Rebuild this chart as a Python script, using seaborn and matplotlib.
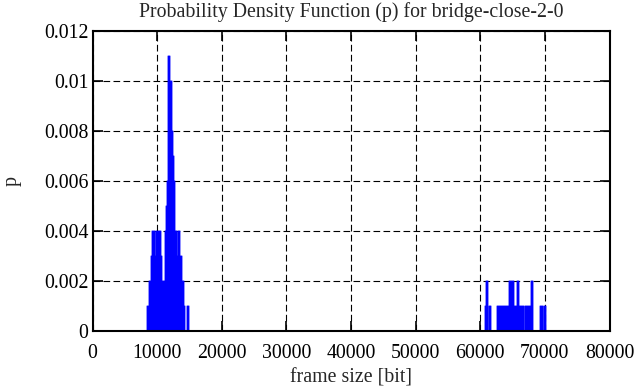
import numpy as np
import pandas as pd
import matplotlib
matplotlib.use("Agg")
import matplotlib.pyplot as plt
import seaborn as sns

# ---- data ----
# frame sizes in bits (bin centres) of the low-size cluster and their probabilities
low_sizes = [8431, 8586, 8741, 8895, 9050, 9205, 9360, 9514, 9669, 9823,
             9978, 10133, 10288, 10442, 10597, 10752, 10906, 11061, 11216, 11370,
             11525, 11680, 11835, 11989, 12144, 12298, 12453, 12608, 12763, 12917,
             13072, 13227, 13381, 13536, 13691, 13845, 14000, 14155, 14619, 14774]
low_p = [0.001, 0.001, 0.002, 0.002, 0.003, 0.004, 0.004, 0.004, 0.003, 0.004,
         0.004, 0.004, 0.004, 0.004, 0.003, 0.002, 0.002, 0.002, 0.004, 0.005,
         0.006, 0.011, 0.011, 0.010, 0.010, 0.008, 0.007, 0.006, 0.004, 0.004,
         0.003, 0.004, 0.004, 0.003, 0.003, 0.002, 0.002, 0.001, 0.001, 0.001]

# high-size cluster
high_sizes = [60720, 60875, 61029, 61339, 61493,
              62576, 62731, 62885, 63040, 63195, 63349, 63504, 63659, 63814, 63968,
              64123, 64278, 64432, 64587, 64742, 64896, 65051, 65206, 65360, 65515,
              65670, 65825, 65979, 66134, 66289, 66443, 66598,
              66907, 67062, 67217, 67371, 67526, 67681, 67836, 67990,
              69228, 69383, 69537, 69847, 70001]
high_p = [0.001, 0.002, 0.002, 0.001, 0.001,
          0.001, 0.001, 0.001, 0.001, 0.001, 0.001, 0.001, 0.001, 0.001, 0.001,
          0.001, 0.001, 0.002, 0.002, 0.002, 0.002, 0.002, 0.001, 0.001, 0.001,
          0.002, 0.002, 0.001, 0.001, 0.001, 0.001, 0.001,
          0.001, 0.001, 0.001, 0.001, 0.001, 0.001, 0.002, 0.002,
          0.001, 0.001, 0.001, 0.001, 0.001]

x_ticks = [0, 10000, 20000, 30000, 40000, 50000, 60000, 70000, 80000]
y_ticks = [0, 0.002, 0.004, 0.006, 0.008, 0.01, 0.012]
y_tick_labels = ["0", "0.002", "0.004", "0.006", "0.008", "0.01", "0.012"]

title = "Probability Density Function (p) for bridge-close-2-0"
xlabel = "frame size [bit]"
ylabel = "p"

df = pd.DataFrame({"size": low_sizes + high_sizes, "p": low_p + high_p})

# ---- styling ----
sns.set_theme(style="white")
plt.rcParams["font.family"] = ["Liberation Serif", "DejaVu Serif"]
plt.rcParams["font.size"] = 14.3

fig = plt.figure(figsize=(6.36, 3.87), dpi=100)
ax = fig.add_axes([92.5 / 636, 1 - 330.5 / 387, 517 / 636, 300 / 387])

sns.histplot(data=df, x="size", weights="p", binwidth=154.7, binrange=(0, 80000),
             element="step", fill=True, color="#0000ff", alpha=1.0,
             linewidth=0.6, edgecolor="#0000ff", ax=ax)

ax.set_xlim(0, 80000)
ax.set_ylim(0, 0.012)
ax.set_xticks(x_ticks)
ax.set_xticklabels([str(v) for v in x_ticks])
ax.set_yticks(y_ticks)
ax.set_yticklabels(y_tick_labels)

ax.grid(True, color="black", linestyle=(0, (6, 3)), linewidth=0.8)
ax.set_axisbelow(True)
for s in ax.spines.values():
    s.set_visible(True)
    s.set_color("black")
    s.set_linewidth(1.5)
ax.tick_params(direction="in", length=7, width=1.2, top=True, right=True,
               bottom=True, left=True, labelsize=14.3, colors="black")
ax.tick_params(axis="x", pad=10)
ax.tick_params(axis="y", pad=3)

ax.set_title(title, fontsize=14.3, pad=9.5)
ax.set_xlabel(xlabel, fontsize=14.3, labelpad=4)
ax.set_ylabel(ylabel, fontsize=14.3, labelpad=16)

fig.savefig("out.png", dpi=100, facecolor="white")
